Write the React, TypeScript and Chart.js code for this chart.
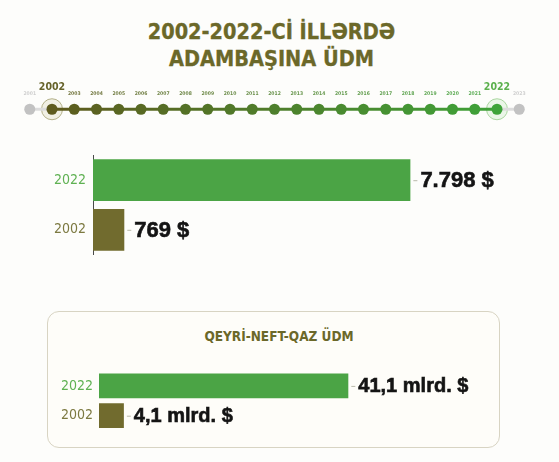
import React, { useEffect, useRef } from 'react';
import { Chart, registerables } from 'chart.js';

Chart.register(...registerables);

// ---------- data ----------
const titleLines = ['2002-2022-Cİ İLLƏRDƏ', 'ADAMBAŞINA ÜDM'];
const timelineYears = [
  '2001', '2002', '2003', '2004', '2005', '2006', '2007', '2008', '2009', '2010', '2011', '2012',
  '2013', '2014', '2015', '2016', '2017', '2018', '2019', '2020', '2021', '2022', '2023',
];
const timelineLevel = [0, 0, 0, 0, 0, 0, 0, 0, 0, 0, 0, 0, 0, 0, 0, 0, 0, 0, 0, 0, 0, 0, 0];
const highlightYears = ['2002', '2022'];
const outsideYears = ['2001', '2023'];

const gdpCategories = ['2022', '2002'];
const gdpPerCapitaUsd = [7798, 769];

const nonOilTitle = 'QEYRİ-NEFT-QAZ ÜDM';
const nonOilCategories = ['2022', '2002'];
const nonOilGdpBnUsd = [41.1, 4.1];

// ---------- styles ----------
const OLIVE = '#6b6829';
const OLIVE_BAR = '#716b2e';
const GREEN_BAR = '#4ba445';
const GREEN_LABEL = '#5fb152';
const OLIVE_LABEL = '#7c7940';
const GRAY_DOT = '#c2c2c2';
const DOT_START = [94, 91, 30];
const DOT_END = [62, 163, 57];
const FONT = '"Liberation Sans", Arial, sans-serif';
const NARROW = '"DejaVu Sans Condensed", "Liberation Sans", sans-serif';

const mix = (t: number) => {
  const c = DOT_START.map((s, k) => Math.round(s + (DOT_END[k] - s) * t));
  return `rgb(${c[0]},${c[1]},${c[2]})`;
};
const isOutside = (i: number) => outsideYears.includes(timelineYears[i]);
const dotColor = (i: number) => (isOutside(i) ? GRAY_DOT : mix((i - 1) / (timelineYears.length - 3)));

const fmtThousands = (n: number) => String(n).replace(/\B(?=(\d{3})+(?!\d))/g, '.') + ' $';
const fmtBn = (n: number) => n.toFixed(1).replace('.', ',') + ' mlrd. $';

const valueLabelPlugin = (texts: string[], fontSize: number) => ({
  id: 'valueLabels',
  afterDatasetsDraw(chart: any) {
    const meta = chart.getDatasetMeta(0);
    const ctx = chart.ctx;
    ctx.save();
    meta.data.forEach((bar: any, i: number) => {
      const { x, y } = bar.getProps(['x', 'y'], true);
      ctx.strokeStyle = '#b9b9aa';
      ctx.lineWidth = 1;
      ctx.beginPath();
      ctx.moveTo(x + 3, y + 0.5);
      ctx.lineTo(x + 7, y + 0.5);
      ctx.stroke();
      ctx.fillStyle = '#141414';
      ctx.font = `bold ${fontSize}px ${FONT}`;
      ctx.textBaseline = 'middle';
      ctx.textAlign = 'left';
      ctx.fillText(texts[i], x + 10, y + 1);
      ctx.lineWidth = 0.6;
      ctx.strokeStyle = '#141414';
      ctx.strokeText(texts[i], x + 10, y + 1);
    });
    ctx.restore();
  },
});

const yearLabelPlugin = {
  id: 'yearLabels',
  afterDatasetsDraw(chart: any) {
    const xs = chart.scales.x;
    const ys = chart.scales.y;
    const ctx = chart.ctx;
    const y0 = ys.getPixelForValue(0);
    ctx.save();
    ctx.textAlign = 'center';
    ctx.textBaseline = 'alphabetic';
    timelineYears.forEach((yr, i) => {
      const x = xs.getPixelForValue(i);
      if (highlightYears.includes(yr)) {
        ctx.font = `bold 10.5px ${NARROW}`;
        ctx.fillStyle = i === 1 ? '#66632a' : '#5bb04c';
        ctx.fillText(yr, x, y0 - 19);
      } else {
        ctx.font = `bold 5px ${NARROW}`;
        ctx.fillStyle = isOutside(i) ? '#cfcfcf' : dotColor(i);
        ctx.globalAlpha = isOutside(i) ? 1 : 0.85;
        ctx.fillText(yr, x, y0 - 14);
        ctx.globalAlpha = 1;
      }
    });
    ctx.restore();
  },
};

function Timeline() {
  const ref = useRef<HTMLCanvasElement>(null);
  useEffect(() => {
    if (!ref.current) return;
    const chart = new Chart(ref.current, {
      type: 'line',
      data: {
        labels: timelineYears,
        datasets: [
          {
            data: timelineLevel,
            order: 1,
            clip: false,
            borderWidth: 3,
            pointRadius: 5.5,
            pointBorderWidth: 0,
            pointBackgroundColor: timelineYears.map((_, i) => dotColor(i)),
            segment: {
              borderColor: (c: any) =>
                isOutside(c.p0DataIndex) || isOutside(c.p1DataIndex) ? '#dcdcdc' : dotColor(c.p0DataIndex),
            },
          } as any,
          {
            data: timelineYears.map((yr, i) => (highlightYears.includes(yr) ? timelineLevel[i] : null)),
            order: 2,
            clip: false,
            showLine: false,
            pointRadius: 10.5,
            pointBorderWidth: 1,
            pointBackgroundColor: timelineYears.map((_, i) => (i < 5 ? '#f1f0e4' : '#ebf6e8')),
            pointBorderColor: timelineYears.map((_, i) => (i < 5 ? '#b3b089' : '#a9d69f')),
          } as any,
        ],
      },
      options: {
        animation: false,
        responsive: true,
        maintainAspectRatio: false,
        layout: { padding: { left: 29.75, right: 39.75, top: 22, bottom: 4 } },
        plugins: { legend: { display: false }, tooltip: { enabled: false } },
        scales: {
          x: { display: false, offset: false },
          y: { display: false, min: -1, max: 1 },
        },
      },
      plugins: [yearLabelPlugin],
    });
    return () => chart.destroy();
  }, []);
  return (
    <div style={{ position: 'absolute', left: 0, top: 69, width: 559, height: 70 }}>
      <canvas ref={ref} />
    </div>
  );
}

function GdpChart() {
  const ref = useRef<HTMLCanvasElement>(null);
  useEffect(() => {
    if (!ref.current) return;
    const chart = new Chart(ref.current, {
      type: 'bar',
      data: {
        labels: gdpCategories,
        datasets: [
          {
            data: gdpPerCapitaUsd,
            backgroundColor: [GREEN_BAR, OLIVE_BAR],
            barPercentage: 0.84,
            categoryPercentage: 1,
          },
        ],
      },
      options: {
        indexAxis: 'y',
        animation: false,
        responsive: true,
        maintainAspectRatio: false,
        layout: { padding: { top: 15, bottom: 15, left: 0, right: 59 } },
        plugins: { legend: { display: false }, tooltip: { enabled: false } },
        scales: {
          x: { display: false, min: 0, max: 10000 },
          y: {
            grid: { display: false, drawTicks: false },
            border: { display: true, color: '#4a4a4a', width: 1 },
            ticks: {
              padding: 7,
              color: (c: any) => (c.index === 0 ? GREEN_LABEL : OLIVE_LABEL),
              font: { family: NARROW, size: 14 },
            },
            afterFit: (s: any) => {
              s.width = 93;
            },
          },
        },
      },
      plugins: [valueLabelPlugin(gdpPerCapitaUsd.map(fmtThousands), 22)],
    });
    return () => chart.destroy();
  }, []);
  return (
    <div style={{ position: 'absolute', left: 0, top: 140, width: 559, height: 130 }}>
      <canvas ref={ref} />
    </div>
  );
}

function NonOilChart() {
  const ref = useRef<HTMLCanvasElement>(null);
  useEffect(() => {
    if (!ref.current) return;
    const chart = new Chart(ref.current, {
      type: 'bar',
      data: {
        labels: nonOilCategories,
        datasets: [
          {
            data: nonOilGdpBnUsd,
            backgroundColor: [GREEN_BAR, OLIVE_BAR],
            barPercentage: 0.83,
            categoryPercentage: 1,
          },
        ],
      },
      options: {
        indexAxis: 'y',
        animation: false,
        responsive: true,
        maintainAspectRatio: false,
        layout: { padding: { top: 16, bottom: 14, left: 0, right: 156.7 } },
        plugins: { legend: { display: false }, tooltip: { enabled: false } },
        scales: {
          x: { display: false, min: 0, max: 50 },
          y: {
            grid: { display: false, drawTicks: false },
            border: { display: false },
            ticks: {
              padding: 6,
              color: (c: any) => (c.index === 0 ? GREEN_LABEL : OLIVE_LABEL),
              font: { family: NARROW, size: 14 },
            },
            afterFit: (s: any) => {
              s.width = 99;
            },
          },
        },
      },
      plugins: [valueLabelPlugin(nonOilGdpBnUsd.map(fmtBn), 20)],
    });
    return () => chart.destroy();
  }, []);
  return (
    <div style={{ position: 'absolute', left: 0, top: 355, width: 559, height: 90 }}>
      <canvas ref={ref} />
    </div>
  );
}

export default function App() {
  return (
    <div
      style={{
        position: 'absolute',
        left: 0,
        top: 0,
        width: 559,
        height: 462,
        background: '#fdfdfb',
        overflow: 'hidden',
      }}
    >
      <div
        style={{
          position: 'absolute',
          left: 0,
          top: 18,
          width: 543,
          textAlign: 'center',
          fontFamily: NARROW,
          fontWeight: 'bold',
          fontSize: 21.5,
          lineHeight: '27px',
          color: OLIVE,
          WebkitTextStroke: '0.3px ' + OLIVE,
        }}
      >
        {titleLines.map((l) => (
          <div key={l}>{l}</div>
        ))}
      </div>
      <Timeline />
      <GdpChart />
      <div
        style={{
          position: 'absolute',
          left: 47,
          top: 311,
          width: 451,
          height: 135,
          border: '1.5px solid #d8d4c3',
          borderRadius: 12,
          background: '#fefdf9',
        }}
      />
      <div
        style={{
          position: 'absolute',
          left: 0,
          top: 327,
          width: 558,
          textAlign: 'center',
          fontFamily: NARROW,
          fontWeight: 'bold',
          fontSize: 13.5,
          lineHeight: '18px',
          color: OLIVE,
        }}
      >
        {nonOilTitle}
      </div>
      <NonOilChart />
    </div>
  );
}
